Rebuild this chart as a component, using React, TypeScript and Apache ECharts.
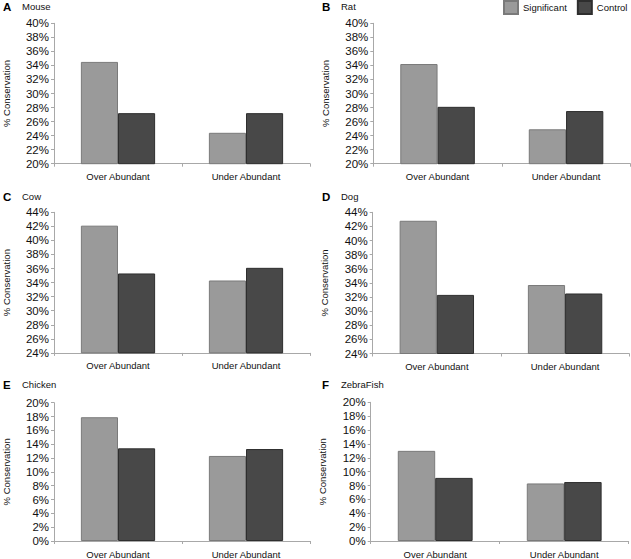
import React, { useEffect, useRef } from "react";
import * as echarts from "echarts";

const categories = ["Over Abundant", "Under Abundant"];
const panelLetters = ["A", "B", "C", "D", "E", "F"];
const panelNames = ["Mouse", "Rat", "Cow", "Dog", "Chicken", "ZebraFish"];
const significant = [
  [34.5, 24.4],
  [34.2, 24.9],
  [42.1, 34.3],
  [42.8, 33.7],
  [17.9, 12.3],
  [13.0, 8.3],
];
const control = [
  [27.2, 27.2],
  [28.1, 27.5],
  [35.3, 36.1],
  [32.3, 32.5],
  [13.4, 13.3],
  [9.1, 8.5],
];
const yMin = [20, 20, 24, 24, 0, 0];
const yMax = [40, 40, 44, 44, 20, 20];
const yStep = 2;

const grids = [
  { left: 52, top: 23.3, width: 258, height: 140.4 },
  { left: 373.3, top: 23.3, width: 257, height: 140.4 },
  { left: 52, top: 212.3, width: 258, height: 140.6 },
  { left: 372.7, top: 212.3, width: 256.5, height: 141.2 },
  { left: 52, top: 402.7, width: 258, height: 140.3 },
  { left: 370.7, top: 402.3, width: 258, height: 140.7 },
];
const titlePos = [
  { x: 3, y: 7 },
  { x: 322, y: 7 },
  { x: 3, y: 197 },
  { x: 322, y: 197 },
  { x: 3, y: 385 },
  { x: 322, y: 385 },
];

const FONT = "Liberation Sans, Arial, sans-serif";
const SIG_COLOR = "#9a9a9a";
const SIG_BORDER = "#7a7a7a";
const CTL_COLOR = "#484848";
const CTL_BORDER = "#2e2e2e";
const AXIS_COLOR = "#a8a8a8";

export default function App() {
  const ref = useRef<HTMLDivElement>(null);
  useEffect(() => {
    if (!ref.current) return;
    const chart = echarts.init(ref.current, undefined, { renderer: "svg" });
    const xAxis: any[] = [];
    const yAxis: any[] = [];
    const series: any[] = [];
    const graphic: any[] = [];
    grids.forEach((g, i) => {
      xAxis.push({
        type: "category",
        gridIndex: i,
        data: categories,
        axisLine: { lineStyle: { color: AXIS_COLOR, width: 1 } },
        axisTick: { show: true, length: 3, lineStyle: { color: AXIS_COLOR } },
        axisLabel: { color: "#111", fontSize: 9.5, fontFamily: FONT, margin: 8 },
      });
      yAxis.push({
        type: "value",
        gridIndex: i,
        min: yMin[i],
        max: yMax[i],
        interval: yStep,
        name: "% Conservation",
        nameLocation: "middle",
        nameGap: 43,
        nameTextStyle: { color: "#111", fontSize: 9.5, fontFamily: FONT },
        splitLine: { show: false },
        axisLine: { show: true, lineStyle: { color: AXIS_COLOR, width: 1 } },
        axisTick: { show: true, length: 3, lineStyle: { color: AXIS_COLOR } },
        axisLabel: {
          color: "#111",
          fontSize: 11.5,
          fontFamily: FONT,
          margin: 5,
          formatter: "{value}%",
        },
      });
      series.push({
        type: "bar",
        name: "Significant",
        xAxisIndex: i,
        yAxisIndex: i,
        data: significant[i],
        barGap: "0%",
        barCategoryGap: "42%",
        itemStyle: { color: SIG_COLOR, borderColor: SIG_BORDER, borderWidth: 1 },
      });
      series.push({
        type: "bar",
        name: "Control",
        xAxisIndex: i,
        yAxisIndex: i,
        data: control[i],
        barGap: "0%",
        barCategoryGap: "42%",
        itemStyle: { color: CTL_COLOR, borderColor: CTL_BORDER, borderWidth: 1 },
      });
      graphic.push({
        type: "text",
        left: titlePos[i].x,
        top: titlePos[i].y - 6,
        style: {
          text: panelLetters[i],
          font: `bold 11.5px ${FONT}`,
          fill: "#000",
        },
      });
      graphic.push({
        type: "text",
        left: titlePos[i].x + 19,
        top: titlePos[i].y - 6,
        style: {
          text: panelNames[i],
          font: `9.5px ${FONT}`,
          fill: "#111",
        },
      });
    });
    chart.setOption({
      animation: false,
      backgroundColor: "#ffffff",
      textStyle: { fontFamily: FONT },
      grid: grids.map((g) => ({ ...g, containLabel: false })),
      xAxis,
      yAxis,
      series,
      graphic,
      legend: {
        data: ["Significant", "Control"],
        left: 503,
        top: 0,
        padding: 0,
        itemWidth: 14,
        itemHeight: 13,
        itemGap: 10,
        icon: "rect",
        textStyle: { color: "#111", fontSize: 9.5, fontFamily: FONT },
      },
    });
    return () => chart.dispose();
  }, []);
  return (
    <div
      ref={ref}
      style={{ position: "fixed", left: 0, top: 0, width: 631, height: 559 }}
    />
  );
}
